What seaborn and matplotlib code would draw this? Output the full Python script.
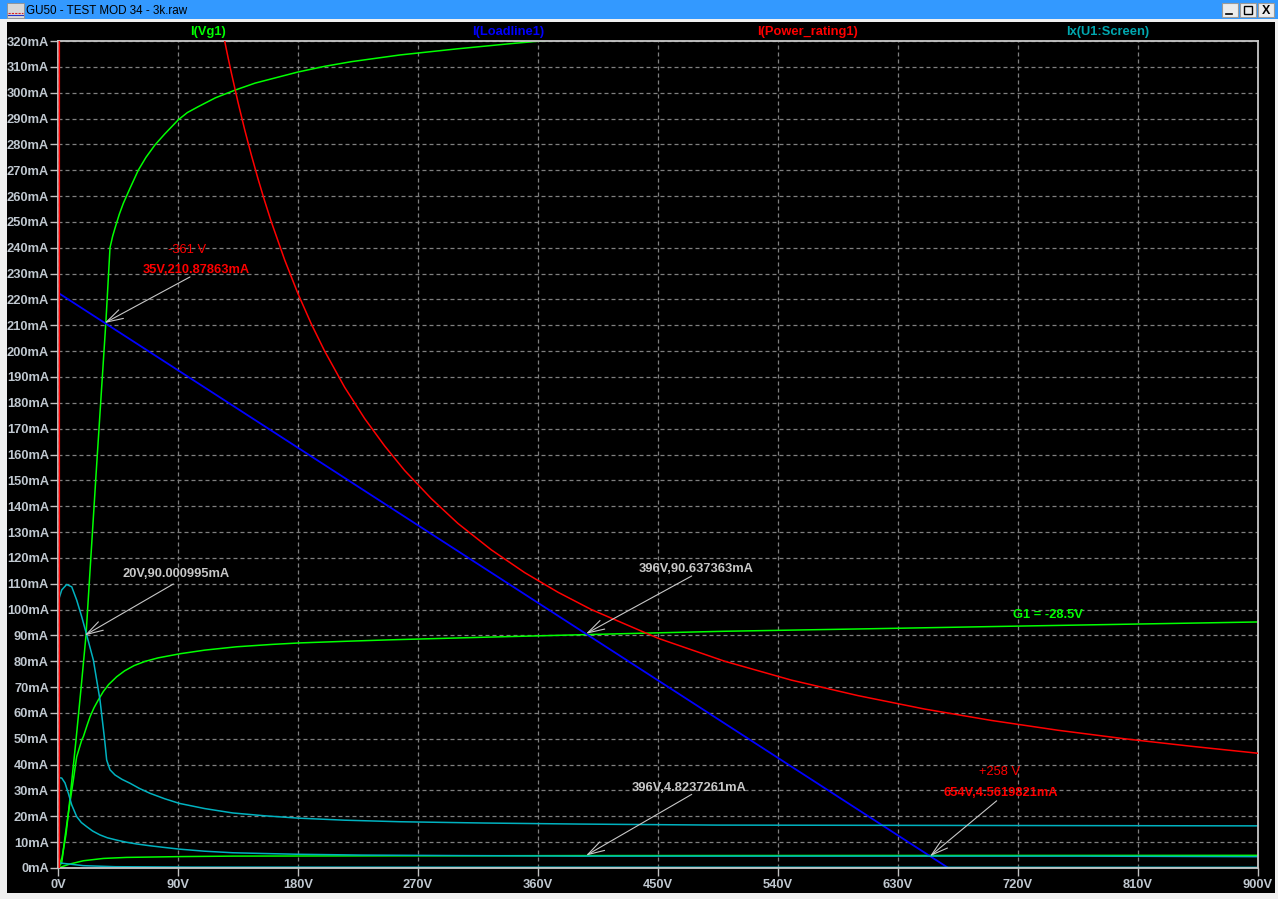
import matplotlib
matplotlib.use("Agg")
import matplotlib.pyplot as plt
from matplotlib.patches import Rectangle
from matplotlib.lines import Line2D
import seaborn as sns

# --- data (volts, mA) ---
plate_v_a = [0, 3, 6, 9, 12, 13.5, 17, 21, 24.5, 29, 34.5, 36, 37.5, 39, 41, 43, 46, 49, 54, 60.2,
             66, 72.75, 80, 90.2, 97, 105.2, 118, 132.8, 147.8, 165, 180, 200, 220, 256.5, 300,
             340, 362, 420]
plate_i_a = [0, 4, 13, 27, 42, 49.5, 68, 90, 119, 156, 200, 212, 226, 240, 244.5, 248, 253, 257.2,
             263, 270, 275, 279.8, 284, 289.5, 292.3, 294.6, 298, 301, 303.7, 306, 308, 310.2,
             312, 314.6, 317, 319, 320, 322.5]

plate_v_b = [0, 2.8, 5.25, 8, 11.5, 14, 17.8, 19, 22, 24, 27, 30.2, 34, 38, 44, 50, 57, 65, 75,
             91.5, 110, 134, 160, 181.5, 220, 250, 320, 388, 450, 500, 601, 720, 810, 900]
plate_i_b = [0, 2, 12, 22, 34, 43, 49.5, 50.8, 55.5, 58.5, 62, 65, 68.3, 71, 74, 76.3, 78.3, 79.9,
             81.3, 82.9, 84.3, 85.6, 86.5, 87.1, 87.8, 88.3, 89.3, 90.2, 91, 91.6, 92.5, 93.6,
             94.4, 95.2]

plate_v_c = [0, 9, 19, 34, 51.5, 90, 131, 250, 396, 600, 900]
plate_i_c = [0, 1.55, 2.8, 3.7, 4.1, 4.4, 4.6, 4.7, 4.8, 4.85, 4.9]

screen_v_a = [0, 2.8, 6.5, 10.3, 14, 17.8, 21.5, 26.5, 31.5, 35, 36.5, 39, 42.75, 48, 54, 61, 69,
              80, 91, 110, 131, 155, 180, 215, 256.5, 320, 391, 494, 766, 900]
screen_i_a = [103, 107.6, 109.7, 108.8, 103.7, 97.2, 90.2, 80.5, 65, 49.5, 41.8, 38, 36, 34.3,
              32.8, 30.8, 28.9, 26.8, 25, 23, 21.3, 20.2, 19.3, 18.5, 17.9, 17.4, 17, 16.6, 16.4,
              16.3]

screen_v_b = [0, 2.8, 5.25, 7.7, 10.3, 14, 17.5, 21.5, 26, 31.5, 37, 44, 51, 59, 69, 79, 91, 110,
              131, 155, 181.5, 228, 300, 391, 766, 900]
screen_i_b = [35, 34.8, 32.9, 29, 24.4, 19.9, 17.6, 16, 14.3, 12.8, 11.7, 10.8, 10, 9.3, 8.6, 8,
              7.3, 6.5, 5.9, 5.6, 5.3, 5.0, 4.8, 4.6, 4.6, 4.4]

screen_v_c = [0, 9, 19, 43, 100, 300, 900]
screen_i_c = [2.0, 1.5, 0.9, 0.5, 0.35, 0.3, 0.25]

load_v = [0, 667.8]
load_i = [222.6, 0]

power_v = [1.0, 1.0, 125, 127.5, 130, 135, 140, 145, 150, 155, 160, 170, 180, 190, 200, 215,
           230, 245, 260, 280, 300, 325, 350, 375, 400, 450, 500, 550, 600, 650, 700, 750, 800,
           850, 900]
power_i = [0, 1000, 320, 313.7, 307.7, 296.3, 285.7, 275.9, 266.7, 258.1, 250, 235.3, 222.2,
           210.5, 200, 186, 173.9, 163.3, 153.8, 142.9, 133.3, 123.1, 114.3, 106.7, 100, 88.9,
           80, 72.7, 66.7, 61.5, 57.1, 53.3, 50, 47.1, 44.4]

trace_names = ["I(Vg1)", "I(Loadline1)", "I(Power_rating1)", "Ix(U1:Screen)"]
volt_ticks = list(range(0, 901, 90))
ma_ticks = list(range(0, 321, 10))

GREEN = "#00ff00"
BLUE = "#0000ff"
RED = "#ff0000"
CYAN = "#00b2c0"
NOTE = "#c8c8c8"
TICK = "#c0c8d0"

W, H = 1278, 899
plt.rcParams["font.family"] = ["Liberation Sans", "DejaVu Sans"]

fig = plt.figure(figsize=(W / 100, H / 100), dpi=100)
fig.patch.set_facecolor("#f0f0f0")


def px(x, y):
    return x / W, 1 - y / H


def chrome(artist):
    artist.set_zorder(-10)
    fig.add_artist(artist)


# window chrome
chrome(Rectangle(px(0, 19), 1, 19 / H, transform=fig.transFigure, fc="#3399ff", ec="none"))
chrome(Rectangle(px(7, 893), (1275 - 7) / W, (893 - 22) / H, transform=fig.transFigure,
                 fc="black", ec="none"))
fig.add_artist(Rectangle(px(7, 18), 17 / W, 15 / H, transform=fig.transFigure, fc="#d8d8d8", ec="#909090", lw=0.6))
fig.add_artist(Line2D([8 / W, 23 / W], [1 - 13 / H, 1 - 13 / H], color="#dd2222", lw=0.8, ls=(0, (2, 1))))
fig.add_artist(Line2D([8 / W, 23 / W], [1 - 15 / H, 1 - 15 / H], color="#2233cc", lw=0.8))
fig.text(26 / W, 1 - 10.5 / H, "GU50 - TEST MOD 34 - 3k.raw", fontsize=8.4, color="black", va="center")
for bx in (1222, 1240, 1258):
    fig.add_artist(Rectangle(px(bx, 17), 16 / W, 14 / H, transform=fig.transFigure, fc="#ececec", ec="#9a9a9a", lw=0.8))
fig.add_artist(Line2D([1226 / W, 1232 / W], [1 - 14 / H, 1 - 14 / H], color="black", lw=1.2))
fig.add_artist(Rectangle(px(1244, 14), 8 / W, 8 / H, transform=fig.transFigure, fc="none", ec="black", lw=1.0))
fig.text(1266 / W, 1 - 10.5 / H, "X", fontsize=9, fontweight="bold", color="black", ha="center", va="center")

ax = fig.add_axes([58 / W, 1 - 868 / H, 1200 / W, 827 / H])
ax.set_facecolor("black")

kw = dict(ax=ax, estimator=None, sort=False, legend=False)
for v, i in ((plate_v_a, plate_i_a), (plate_v_b, plate_i_b), (plate_v_c, plate_i_c)):
    sns.lineplot(x=v, y=i, color=GREEN, lw=1.1, **kw)
sns.lineplot(x=load_v, y=load_i, color=BLUE, lw=1.3, **kw)
sns.lineplot(x=power_v, y=power_i, color=RED, lw=1.1, zorder=3, **kw)
for v, i in ((screen_v_a, screen_i_a), (screen_v_b, screen_i_b), (screen_v_c, screen_i_c)):
    sns.lineplot(x=v, y=i, color=CYAN, lw=1.1, **kw)

ax.set_xlim(0, 900)
ax.set_ylim(0, 320)
ax.set_xticks(volt_ticks)
ax.set_xticklabels([f"{v}V" for v in volt_ticks])
ax.set_yticks(ma_ticks)
ax.set_yticklabels([f"{m}mA" for m in ma_ticks])
ax.tick_params(axis="both", colors="#c0c0c0", length=5.5, width=1, direction="out",
               labelsize=9.3, labelcolor=TICK)
ax.tick_params(axis="y", pad=1)
ax.tick_params(axis="x", pad=2.5)
for lab in ax.get_xticklabels() + ax.get_yticklabels():
    lab.set_fontweight("bold")
ax.grid(True, color="#808080", lw=0.9, ls=(0, (3.2, 2.4)))
for s in ax.spines.values():
    s.set_color("#c8c8c8")
    s.set_linewidth(1.3)
ax.set_xlabel("")
ax.set_ylabel("")

# trace names along the top
for k, (name, col) in enumerate(zip(trace_names, [GREEN, BLUE, RED, "#00a8b0"])):
    fig.text((208 + 300 * k) / W, 1 - 32 / H, name, color=col, fontsize=9.3, fontweight="bold",
             ha="center", va="center")

# cursor annotations
notes = [
    ((35, 210.88), (99, 228.7), "35V,210.87863mA", (103.5, 231.4), RED),
    ((20, 90.0), (86.5, 109.9), "20V,90.000995mA", (88.5, 113.7), NOTE),
    ((396, 90.64), (475.3, 113.0), "396V,90.637363mA", (478.5, 115.7), NOTE),
    ((396, 4.82), (475.3, 28.5), "396V,4.8237261mA", (473.3, 31.0), NOTE),
    ((654, 4.56), (704, 26.0), "654V,4.5619821mA", (707.3, 29.0), RED),
]
for tip, tail, text, tpos, col in notes:
    ax.annotate("", xy=tip, xytext=tail,
                arrowprops=dict(arrowstyle="->,head_length=1.2,head_width=0.35", color=NOTE,
                                lw=0.8, mutation_scale=10, shrinkA=0, shrinkB=0))
    ax.text(tpos[0], tpos[1], text, color=col, fontsize=9.3, fontweight="bold", ha="center", va="center")

ax.text(96.8, 239.2, "-361 V", color=RED, fontsize=9.3, ha="center", va="center")
ax.text(706.5, 37.3, "+258 V", color=RED, fontsize=9.3, ha="center", va="center")
ax.text(742.5, 98.0, "G1 = -28.5V", color=GREEN, fontsize=9.3, fontweight="bold", ha="center", va="center")

fig.savefig("out.png", dpi=100, facecolor=fig.get_facecolor())
